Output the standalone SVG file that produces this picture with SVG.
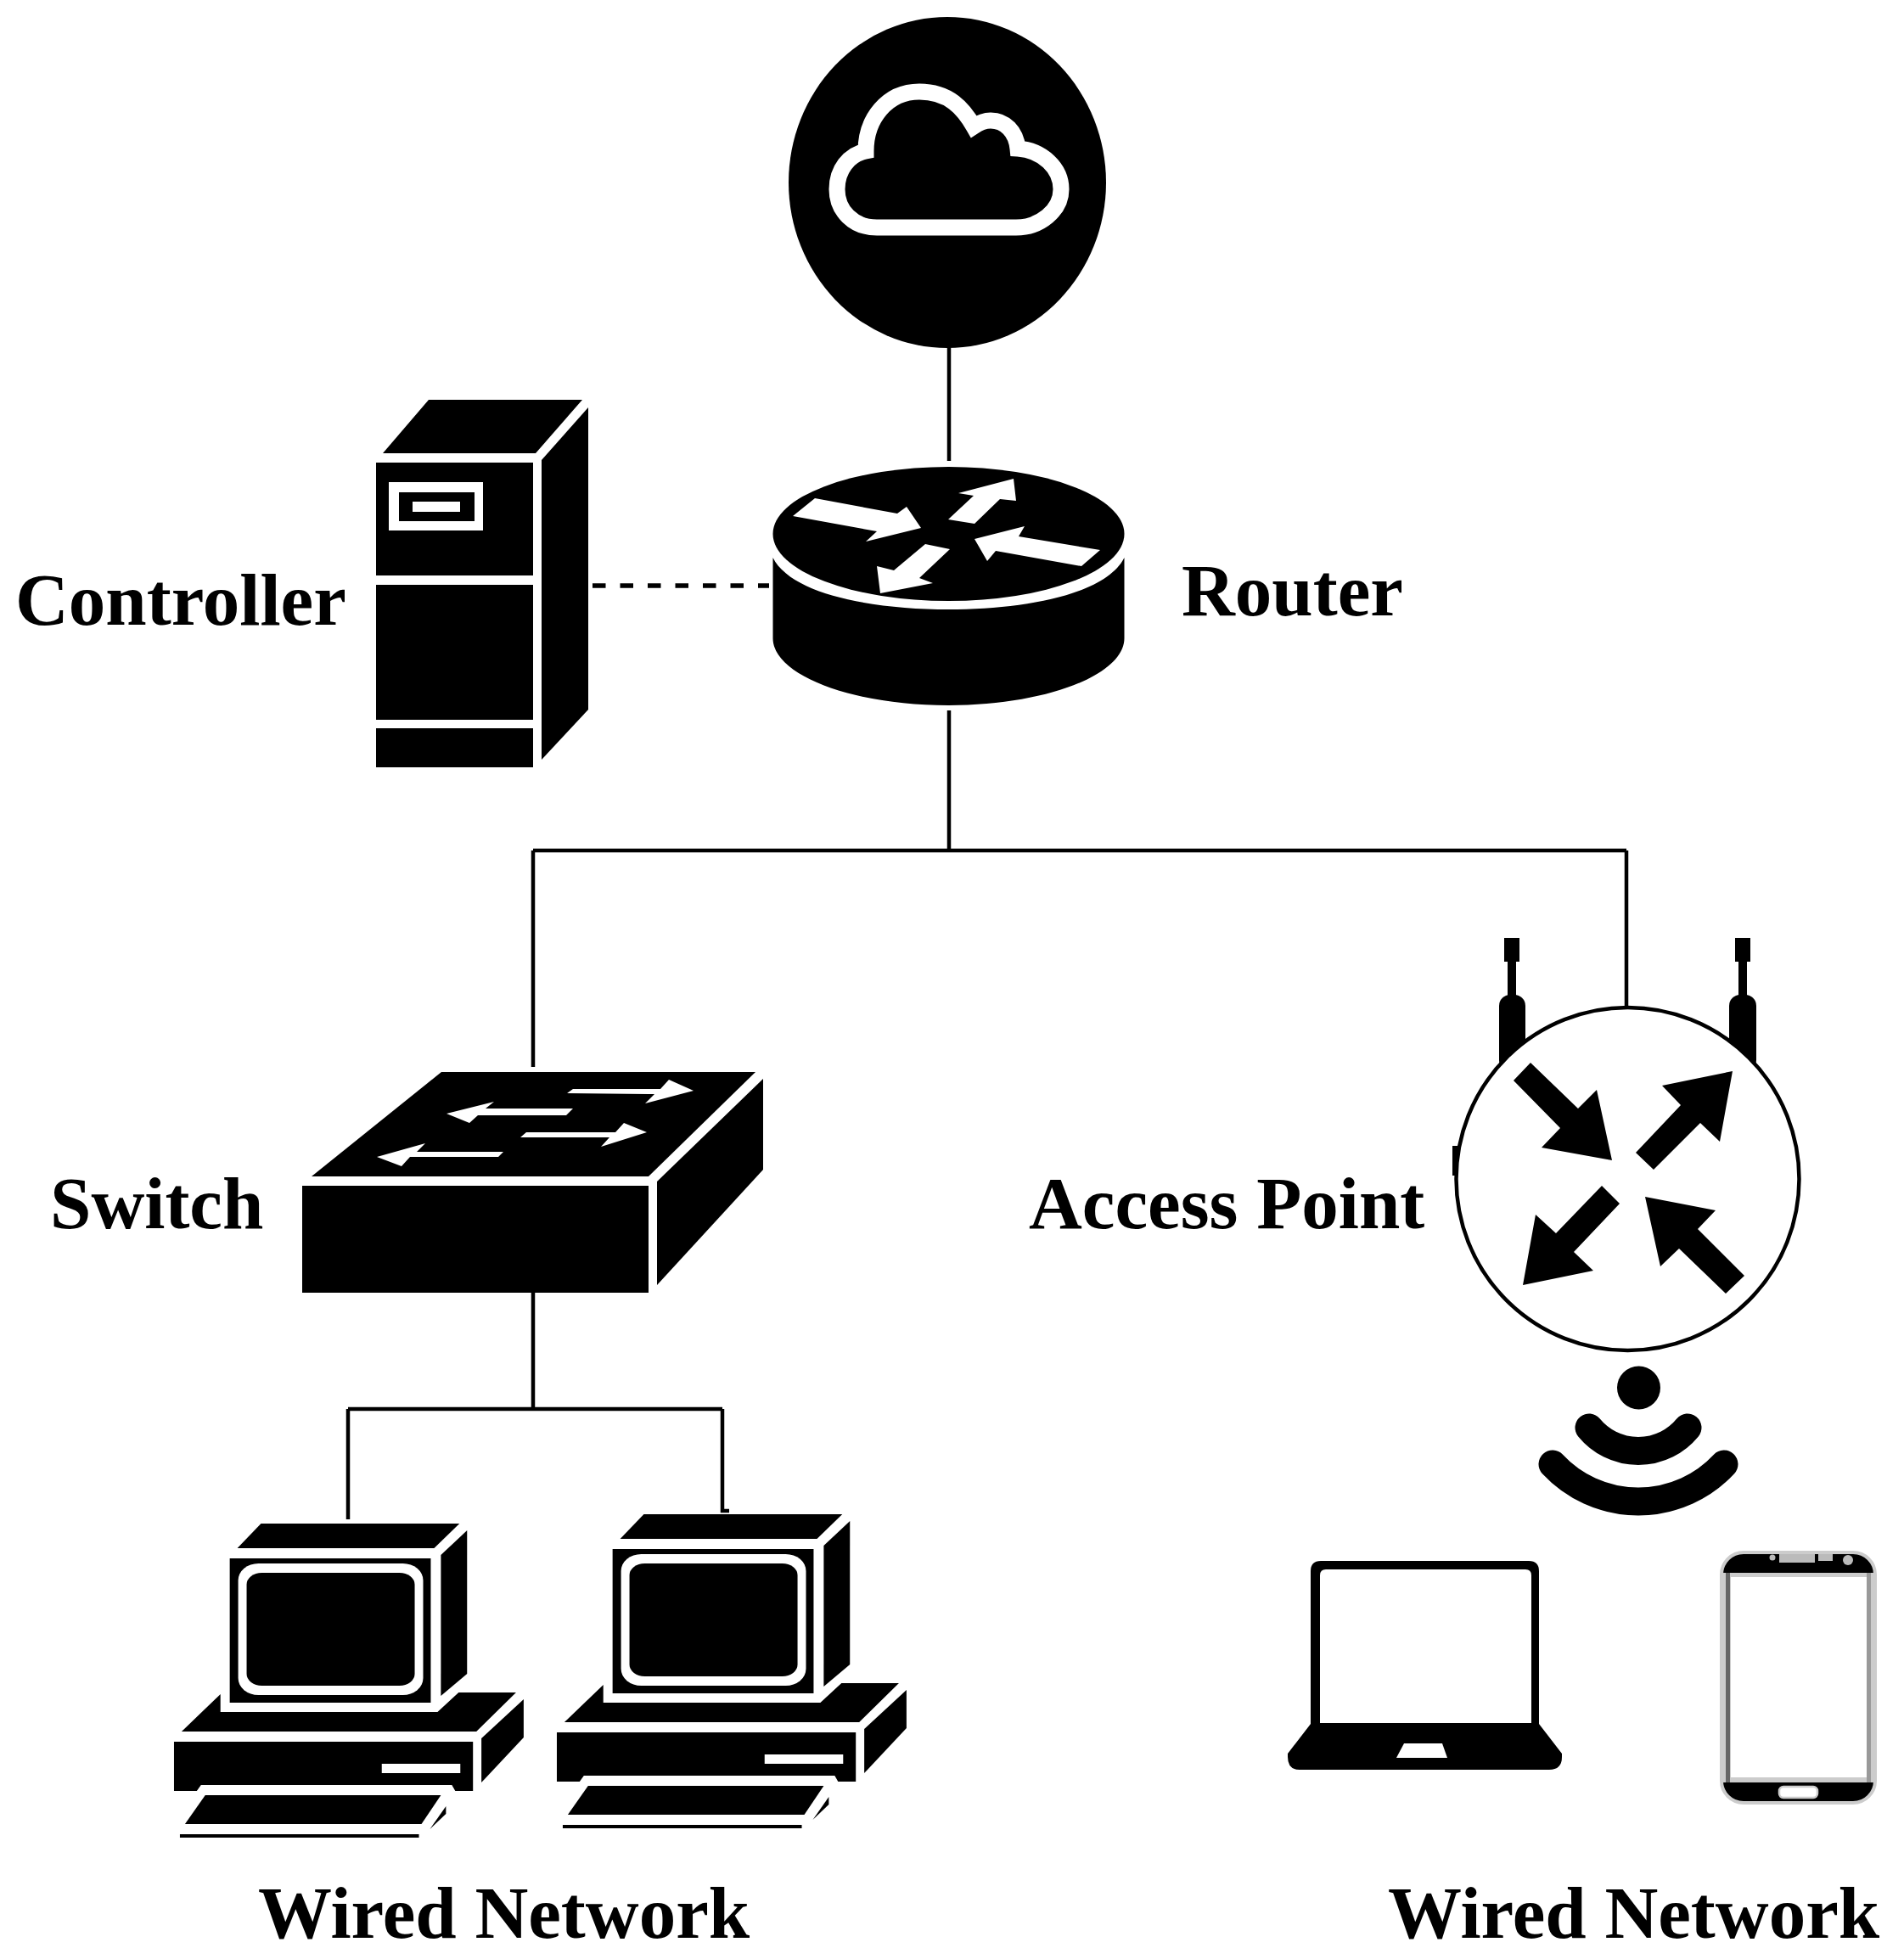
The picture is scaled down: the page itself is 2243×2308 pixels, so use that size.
<svg xmlns="http://www.w3.org/2000/svg" width="2243" height="2308" viewBox="0 0 2243 2308">
<style>
.k{fill:#000}.w{fill:#fff}
.c{fill:none;stroke:#000;stroke-width:4.5}
text{font-family:"Liberation Serif","Times New Roman",serif;font-weight:700;font-size:87px;fill:#000}
</style>
<defs>
<g id="pc">
<polygon class="k" points="308,1795 543,1795 513,1824 280,1824"/>
<polygon class="k" points="552,1803 552,1972 521,1998 521,1832"/>
<rect class="k" x="271" y="1836" width="238" height="170"/>
<rect class="w" x="281" y="1842" width="219" height="155" rx="24" ry="20"/>
<rect class="k" x="291" y="1853" width="199" height="133" rx="18" ry="14"/>
<polygon class="k" points="214,2040 260,1996 260,2017 517,2017 542,1994 610,1994 563,2040"/>
<polygon class="k" points="619,2002 619,2047 569,2100 569,2048"/>
<polygon class="k" points="205,2052 559,2052 559,2110 538,2110 534,2103 237,2103 232,2110 205,2110"/>
<rect class="w" x="451" y="2078" width="93" height="11"/>
<polygon class="k" points="242,2115 521,2115 498,2149 218,2149"/>
<polygon class="k" points="527,2128 527,2137 508,2155"/>
<rect class="k" x="212" y="2161" width="283" height="4"/>
</g>
</defs>
<rect class="w" width="2243" height="2308"/>
<g id="connectors">
<path class="c" d="M1118 405V543M1118 837V1002M628 1002H1916M628 1002V1257M1916 1002V1187M628 1523V1660M410 1660H851M410 1660V1790M851 1660V1780H859"/>
<path class="c" style="stroke-width:5.5;stroke-dasharray:15.5 17" d="M698 690H906"/>
</g>
<g id="internet">
<ellipse class="k" cx="1116" cy="215" rx="187" ry="195"/>
<path d="M1033 268C1005 268 986 248 986 223C986 200 1000 182 1020 178C1020 140 1045 108 1083 108C1118 108 1135 128 1147 149C1153 145 1160 142 1167 142C1184 142 1197 155 1199 175C1228 177 1250 198 1250 223C1250 248 1225 268 1197 268Z" fill="none" stroke="#fff" stroke-width="19" stroke-miterlimit="10"/>
</g>
<g id="controller">
<polygon class="k" points="505,471 686,471 631,534 451,534"/>
<polygon class="k" points="693,480 693,836 638,895 638,542"/>
<rect class="k" x="443" y="545" width="185" height="133"/>
<rect class="k" x="443" y="689" width="185" height="159"/>
<rect class="k" x="443" y="858" width="185" height="46"/>
<rect class="w" x="458" y="568" width="111" height="57"/>
<rect class="k" x="470" y="580" width="89" height="34"/>
<rect class="w" x="486" y="591" width="56" height="12"/>
<text x="18" y="736">Controller</text>
</g>
<g id="router">
<ellipse class="k" cx="1117.500" cy="629" rx="207" ry="79"/>
<path class="k" d="M910.500 657C932 700 1027 718 1117.500 718C1208 718 1303 700 1324.500 657V752C1324.500 795 1232 831 1117.500 831C1003 831 910.500 795 910.500 752Z"/>
<polygon class="w" points="960,587 1057,605 1068,597 1085,622 1020,638 1033,626 934,608"/>
<polygon class="w" points="1117,612 1147,584 1129,581 1194,564 1197,590 1178,588 1148,617"/>
<polygon class="w" points="1296,648 1200,632 1207,620 1148,635 1163,661 1173,649 1274,667"/>
<polygon class="w" points="1090,641 1119,647 1083,681 1099,687 1037,699 1033,667 1053,672"/>
<text x="1392" y="725">Router</text>
</g>
<g id="switch">
<polygon class="k" points="520,1263 890,1263 764,1386 367,1386"/>
<polygon class="k" points="899,1271 899,1378 774,1514 774,1392"/>
<rect class="k" x="356" y="1397" width="408" height="126"/>
<polygon class="w" points="668,1288 675,1283 778,1283 788,1272 817,1285 760,1300 771,1289"/>
<polygon class="w" points="526,1312 582,1298 572,1306 675,1306 667,1314 563,1314 553,1323"/>
<polygon class="w" points="613,1340 620,1334 725,1334 735,1323 762,1334 708,1351 718,1340"/>
<polygon class="w" points="444,1363 501,1347 491,1357 593,1357 587,1363 483,1363 473,1374"/>
<text x="59" y="1447">Switch</text>
</g>
<g id="access-point">
<rect class="k" x="1772" y="1105" width="18" height="28"/>
<rect class="k" x="1776" y="1133" width="10" height="40"/>
<rect class="k" x="1766" y="1172" width="31" height="90" rx="13"/>
<rect class="k" x="2044" y="1105" width="18" height="28"/>
<rect class="k" x="2048" y="1133" width="10" height="40"/>
<rect class="k" x="2037" y="1172" width="32" height="90" rx="13"/>
<rect class="k" x="1711" y="1350" width="6" height="35"/>
<circle cx="1917.500" cy="1389" r="202" fill="#fff" stroke="#000" stroke-width="4.5"/>
<polygon class="k" points="1803,1252 1859,1306 1881,1284 1899,1367 1816,1352 1838,1329 1783,1273"/>
<polygon class="k" points="1927,1358 1980,1302 1958,1279 2041,1262 2026,1345 2003,1323 1948,1378"/>
<polygon class="k" points="1887,1397 1908,1418 1854,1475 1877,1497 1794,1514 1809,1431 1833,1453"/>
<polygon class="k" points="1938,1410 2021,1426 2000,1448 2055,1503 2033,1524 1978,1471 1956,1492"/>
<text x="1212" y="1447">Access Point</text>
</g>
<g id="wifi">
<circle class="k" cx="1930.500" cy="1635" r="25.5"/>
<path d="M1872 1682A75 75 0 0 0 1988 1682M1829 1725A138 138 0 0 0 2031 1725" fill="none" stroke="#000" stroke-width="33" stroke-linecap="round"/>
</g>
<g id="pc-1"><use href="#pc" transform="matrix(.995 0 0 1 1 0)"/></g>
<g id="pc-2"><use href="#pc" transform="matrix(.995 0 0 1 452 -11)"/></g>
<g id="laptop">
<path class="k" d="M1544 2031V1851Q1544 1839 1556 1839H1801Q1813 1839 1813 1851V2031L1840 2066V2070Q1840 2085 1825 2085H1531Q1517 2085 1517 2070V2066Z"/>
<path class="w" d="M1555 2030V1856Q1555 1849 1562 1849H1797Q1804 1849 1804 1856V2030Z"/>
<polygon class="w" points="1654,2054 1699,2054 1705,2071 1645,2071"/>
</g>
<g id="phone" transform="translate(-3 0)">
<rect x="2031" y="1829" width="181" height="295" rx="26" fill="#000" stroke="#ccc" stroke-width="4"/>
<rect x="2033" y="1853" width="177" height="247" fill="#ccc"/>
<rect x="2036" y="1853" width="5" height="247" fill="#666"/>
<rect x="2202" y="1853" width="5" height="247" fill="#999"/>
<rect class="w" x="2042" y="1858" width="160" height="236"/>
<rect x="2099" y="1831" width="42" height="10" fill="#bbb"/>
<rect x="2145" y="1831" width="17" height="8" fill="#bbb"/>
<circle cx="2091" cy="1835" r="3.5" fill="#bbb"/>
<circle cx="2180" cy="1838" r="6" fill="#bbb"/>
<rect x="2099" y="2105" width="45" height="13" rx="5" fill="#fff" stroke="#ccc" stroke-width="2.5"/>
</g>
<g id="labels">
<text x="304" y="2283">Wired Network</text>
<text x="1635" y="2283">Wired Network</text>
</g>
</svg>
